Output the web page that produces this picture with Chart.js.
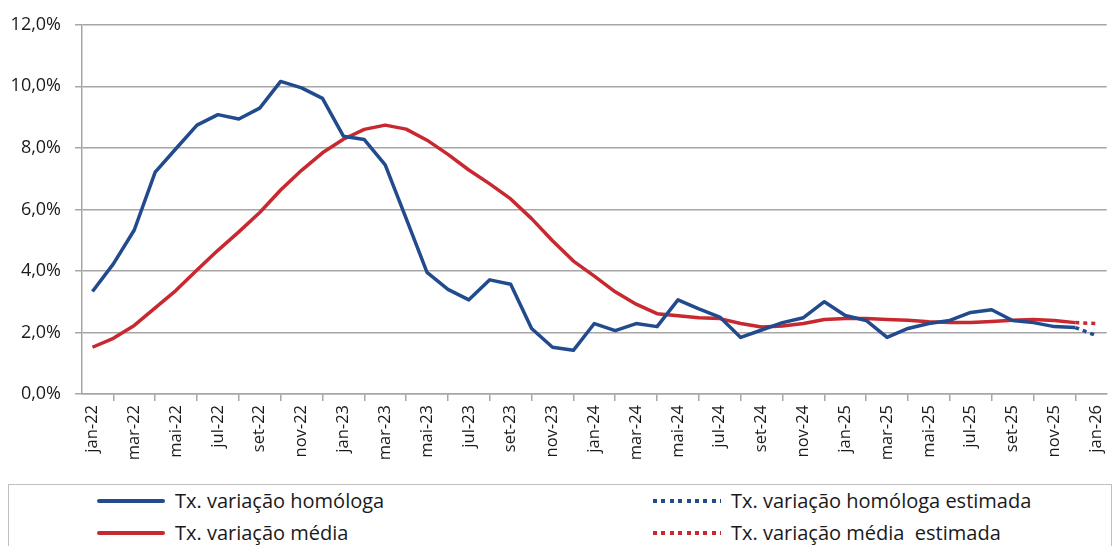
<!DOCTYPE html>
<html lang="pt">
  <head>
    <meta charset="UTF-8" />
    <title>Taxa de variação</title>
    <style>
      html, body { margin: 0; padding: 0; background: #fff; overflow: hidden; }
      .chart-box { position: absolute; left: 0; top: 0; width: 1120px; height: 482px; }
      .legend-box {
        position: absolute; left: 8px; top: 484px; width: 1104px; height: 80px;
        border: 1px solid #bfbfbf; box-sizing: border-box;
      }
      .item {
        position: absolute; display: flex; align-items: center; height: 26px; line-height: 26px;
        font-family: "Open Sans", sans-serif; font-size: 20px; color: #1a1a1a;
        white-space: pre;
      }
      .swatch { width: 68px; height: 4px; margin-right: 10px; border-radius: 2px; }
    </style>
  </head>
  <body>
    <div class="chart-box"><canvas id="myChart"></canvas></div>
    <div id="legend"></div>

    <script src="https://cdn.jsdelivr.net/npm/chart.js"></script>

    <script>
      const months = ["jan", "fev", "mar", "abr", "mai", "jun", "jul", "ago", "set", "out", "nov", "dez"];
      const labels = [];
      for (let y = 22; y <= 26; y++) {
        months.forEach((m) => labels.push(m + "-" + y));
      }
      labels.length = 49; // jan-22 .. jan-26

      // taxa de variação homóloga (%)
      const homologa = [
        3.33, 4.23, 5.33, 7.21, 7.98, 8.74, 9.08, 8.94, 9.29, 10.16, 9.95, 9.61,
        8.38, 8.27, 7.45, 5.71, 3.95, 3.40, 3.06, 3.71, 3.57, 2.13, 1.52, 1.42,
        2.29, 2.06, 2.29, 2.19, 3.06, 2.77, 2.50, 1.84, 2.08, 2.32, 2.48, 3.00,
        2.55, 2.39, 1.84, 2.13, 2.29, 2.39, 2.65, 2.74, 2.39, 2.32, 2.19, 2.16,
        null,
      ];
      // taxa de variação média (%)
      const media = [
        1.52, 1.81, 2.23, 2.80, 3.37, 4.03, 4.67, 5.27, 5.90, 6.63, 7.27, 7.84,
        8.28, 8.60, 8.74, 8.61, 8.25, 7.79, 7.28, 6.83, 6.34, 5.70, 4.98, 4.32,
        3.83, 3.32, 2.92, 2.61, 2.54, 2.48, 2.45, 2.29, 2.18, 2.21, 2.29, 2.42,
        2.45, 2.45, 2.42, 2.40, 2.35, 2.32, 2.32, 2.36, 2.40, 2.42, 2.39, 2.32,
        null,
      ];
      // valores estimados (último mês)
      const homologaEst = Array(47).fill(null).concat([2.16, 1.90]);
      const mediaEst = Array(47).fill(null).concat([2.32, 2.29]);

      const blue = "#214b8d";
      const red = "#c8282f";
      const gridColor = "#a6a6a6";

      const ctx = document.getElementById("myChart");

      const chart = new Chart(ctx, {
        type: "line",
        data: {
          labels: labels,
          datasets: [
            { label: "Tx. variação homóloga", data: homologa, borderColor: blue, borderWidth: 3.5 },
            { label: "Tx. variação média", data: media, borderColor: red, borderWidth: 3.5 },
            { label: "Tx. variação homóloga estimada", data: homologaEst, borderColor: blue, borderWidth: 3.5, borderDash: [4, 4] },
            { label: "Tx. variação média  estimada", data: mediaEst, borderColor: red, borderWidth: 3.5, borderDash: [4, 4] },
          ],
        },
        options: {
          responsive: true,
          maintainAspectRatio: false,
          animation: false,
          layout: { padding: { top: 17, right: 1, bottom: 8, left: 0 } },
          elements: {
            point: { radius: 0 },
            line: { tension: 0, borderJoinStyle: "round", borderCapStyle: "butt" },
          },
          plugins: {
            legend: { display: false },
            tooltip: { enabled: false },
          },
          scales: {
            x: {
              offset: true,
              afterFit: (scale) => { scale.height = 80; },
              grid: {
                offset: true,
                drawOnChartArea: false,
                tickLength: 7,
                color: gridColor,
                lineWidth: 1.5,
              },
              border: { color: gridColor, width: 1.5 },
              ticks: {
                autoSkip: false,
                maxRotation: 90,
                minRotation: 90,
                padding: 4,
                color: "#1a1a1a",
                font: { family: "Open Sans", size: 16.5 },
                callback: function (value, index) {
                  return index % 2 === 0 ? this.getLabelForValue(value) : null;
                },
              },
            },
            y: {
              min: 0,
              max: 12,
              afterFit: (scale) => { scale.width = 82; },
              grid: { color: gridColor, lineWidth: 1.5, tickLength: 7 },
              border: { color: gridColor, width: 1.5 },
              ticks: {
                stepSize: 2,
                padding: 14,
                color: "#1a1a1a",
                font: { family: "Open Sans", size: 18 },
                callback: (v) => v.toFixed(1).replace(".", ",") + "%",
              },
            },
          },
        },
      });

      // legenda em duas colunas, como no original
      const legend = document.getElementById("legend");
      legend.innerHTML = '<div class="legend-box"></div>';
      const spots = [
        { left: 97, top: 488 },
        { left: 97, top: 520 },
        { left: 653, top: 488 },
        { left: 653, top: 520 },
      ];
      chart.data.datasets.forEach((ds, i) => {
        const item = document.createElement("div");
        item.className = "item";
        item.style.left = spots[i].left + "px";
        item.style.top = spots[i].top + "px";
        const sw = document.createElement("span");
        sw.className = "swatch";
        if (ds.borderDash) {
          sw.style.borderRadius = "0";
          sw.style.background =
            "repeating-linear-gradient(90deg," + ds.borderColor + " 0 4px, transparent 4px 8.4px)";
        } else {
          sw.style.background = ds.borderColor;
        }
        item.appendChild(sw);
        item.appendChild(document.createTextNode(ds.label));
        legend.appendChild(item);
      });
    </script>
  </body>
</html>
